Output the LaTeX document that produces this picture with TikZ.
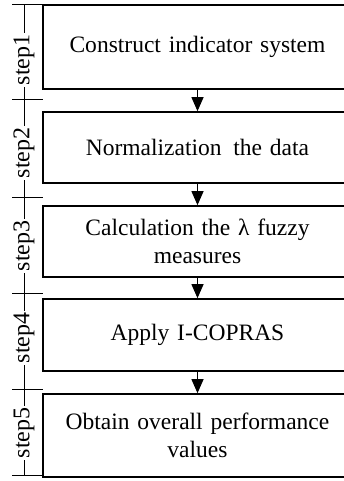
\documentclass[tikz,border=0pt]{standalone}
\usepackage{fontspec}
\setmainfont{Liberation Serif}
\usetikzlibrary{arrows.meta}
\begin{document}
\begin{tikzpicture}[x=1pt,y=1pt,
  stepbox/.style={draw, line width=1.6pt, minimum width=309pt, inner sep=0pt,
    font=\fontsize{23.5}{28}\selectfont, align=center, text width=300pt},
  steplabel/.style={rotate=90, fill=white, inner sep=1.5pt, font=\fontsize{24}{28}\selectfont},
  rail/.style={line width=1pt},
  flow/.style={line width=1pt, -{Triangle[length=14pt,width=12pt]}}
]
\useasboundingbox (0,0) rectangle (343,481);
% boxes
\node[stepbox, minimum height=84pt] (b1) at (197.5,434) {Construct indicator system};
\node[stepbox, minimum height=71pt] (b2) at (197.5,333.5) {Normalization\, the data};
\node[stepbox, minimum height=71pt] (b3) at (197.5,239.5) {Calculation the λ fuzzy\\measures};
\node[stepbox, minimum height=72pt] (b4) at (197.5,146) {Apply I-COPRAS};
\node[stepbox, minimum height=83pt] (b5) at (197.5,45.5) {Obtain overall performance\\values};
% arrows
\draw[flow] (b1.south) -- (b2.north);
\draw[flow] (b2.south) -- (b3.north);
\draw[flow] (b3.south) -- (b4.north);
\draw[flow] (b4.south) -- (b5.north);
% left rail
\coordinate (r0) at (24,476);
\coordinate (r5) at (24,5);
\draw[rail] (r0) -- (r5);
\foreach \i/\y in {0/476,1/381,2/283,3/187,4/91,5/5}{
  \coordinate (t\i) at (12,\y);
  \draw[rail] (t\i) -- ++(31,0);
}
\node[steplabel] (s1) at (24,421) {step1};
\node[steplabel] (s2) at (24,328) {step2};
\node[steplabel] (s3) at (24,235) {step3};
\node[steplabel] (s4) at (24,143) {step4};
\node[steplabel] (s5) at (24,48) {step5};
\end{tikzpicture}
\end{document}
